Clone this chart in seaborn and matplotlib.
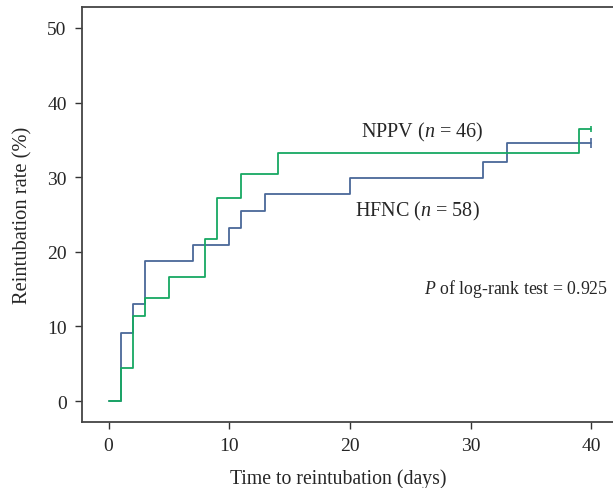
import numpy as np
import pandas as pd
import matplotlib
matplotlib.use('Agg')
import matplotlib.pyplot as plt
import seaborn as sns

# Step data (days, cumulative reintubation rate %)
hfnc_days = [0, 1, 2, 3, 7, 10, 11, 13, 20, 31, 33, 40]
hfnc_rate = [0, 9.1, 13.0, 18.8, 20.9, 23.2, 25.5, 27.7, 29.9, 32.1, 34.6, 34.6]
nppv_days = [0, 1, 2, 3, 5, 8, 9, 11, 14, 39, 40]
nppv_rate = [0, 4.4, 11.4, 13.8, 16.6, 21.7, 27.2, 30.4, 33.3, 36.4, 36.4]

x_ticks = [0, 10, 20, 30, 40]
y_ticks = [0, 10, 20, 30, 40, 50]

blue = '#4a6899'
green = '#17a862'

sns.set_style('ticks')
plt.rcParams['font.family'] = ['Liberation Serif', 'DejaVu Serif']
plt.rcParams['mathtext.fontset'] = 'custom'
plt.rcParams['mathtext.rm'] = 'Liberation Serif'
plt.rcParams['mathtext.it'] = 'Liberation Serif:italic'

hfnc = pd.DataFrame({'days': hfnc_days, 'rate': hfnc_rate})
nppv = pd.DataFrame({'days': nppv_days, 'rate': nppv_rate})

fig = plt.figure(figsize=(6.13, 4.89), dpi=100)
ax = fig.add_axes([0.1338, 0.135, 0.8662, 0.8486])

sns.lineplot(data=hfnc, x='days', y='rate', ax=ax, color=blue, lw=1.3,
             drawstyle='steps-post', estimator=None, sort=False)
sns.lineplot(data=nppv, x='days', y='rate', ax=ax, color=green, lw=1.3,
             drawstyle='steps-post', estimator=None, sort=False)

# censor marks at the end of follow-up
ax.plot(hfnc_days[-1], hfnc_rate[-1], marker='|', ms=7, mew=1.2, color=blue)
ax.plot(nppv_days[-1], nppv_rate[-1], marker='|', ms=5, mew=1.2, color=green)

ax.set_xlim(-2.2, 41.8)
ax.set_ylim(-2.8, 52.8)
ax.set_xticks(x_ticks)
ax.set_yticks(y_ticks)
ax.tick_params(labelsize=14, length=5, width=1, color='#333333', pad=6)
ax.set_xlabel('Time to reintubation (days)', fontsize=14.2)
ax.set_ylabel('Reintubation rate (%)', fontsize=14.8)
ax.xaxis.set_label_coords(0.482, -0.112)
ax.yaxis.set_label_coords(-0.093, 0.5)

for s in ['left', 'bottom', 'top']:
    ax.spines[s].set_color('#444444')
    ax.spines[s].set_linewidth(1.3)
ax.spines['right'].set_visible(False)

ax.text(20.9, 36.1, 'NPPV ($\\it{n}$ = 46)', fontsize=14.5, va='center', ha='left')
ax.text(20.4, 25.5, 'HFNC ($\\it{n}$ = 58)', fontsize=14.5, va='center', ha='left')
ax.text(26.1, 15.1, '$\\it{P}$ of log-rank test = 0.925', fontsize=12.8, va='center', ha='left')

ax.set_facecolor('white')
fig.savefig('out.png', dpi=100)
